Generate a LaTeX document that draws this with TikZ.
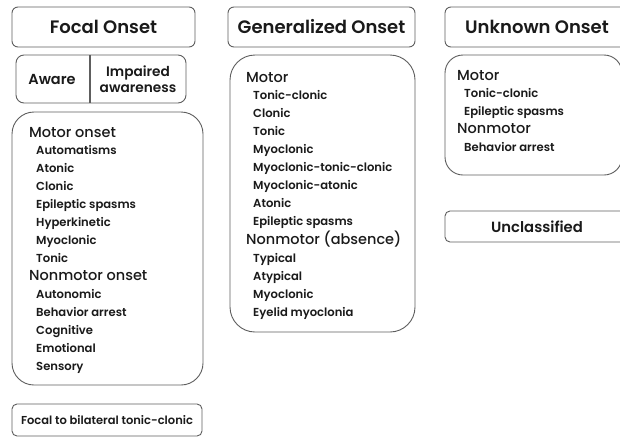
\documentclass[tikz,border=0pt]{standalone}
\usepackage{fontspec}
\setmainfont{Poppins}
\newfontfamily\pmed{Poppins Medium}
\newfontfamily\psemi{Poppins SemiBold}
\definecolor{linegray}{HTML}{5E5E5E}
\definecolor{txt}{HTML}{1A1A1A}
\begin{document}
\begin{tikzpicture}[x=1pt,y=-1pt,
  box/.style={draw=linegray, line width=0.9pt, inner sep=0},
  hdrtext/.style={inner sep=0, text=txt, font=\psemi\fontsize{18}{21}\selectfont},
  midtext/.style={inner sep=0, text=txt, font=\psemi\fontsize{14.5}{16}\selectfont, align=center},
  subhead/.style={anchor=base west, inner sep=0, text=txt, font=\pmed\fontsize{14.5}{17}\selectfont},
  item/.style={anchor=base west, inner sep=0, text=txt, font=\psemi\fontsize{11.6}{13}\selectfont},
  smallbox/.style={inner sep=0, text=txt, font=\psemi\fontsize{11.5}{13}\selectfont},
]
\useasboundingbox[fill=white] (0,0) rectangle (620,437);
% header boxes
\node[box, rounded corners=6pt, minimum width=183pt, minimum height=40pt] (focalbox) at (103.5,27) {};
\node[hdrtext] (focalt) at (focalbox.center) {Focal Onset};
\node[box, rounded corners=6pt, minimum width=187pt, minimum height=40pt] (genbox) at (321.5,27) {};
\node[hdrtext] (gent) at (genbox.center) {Generalized Onset};
\node[box, rounded corners=6pt, minimum width=184pt, minimum height=40pt] (unkbox) at (537,27) {};
\node[hdrtext] (unkt) at (unkbox.center) {Unknown Onset};
% aware box
\node[box, rounded corners=8pt, minimum width=170pt, minimum height=48pt] (awbox) at (101,79) {};
\coordinate (divtop) at (90,55);
\coordinate (divbot) at (90,103);
\draw[linegray, line width=1.4pt] (divtop) -- (divbot);
\node[midtext] (aware) at (52,79) {Aware};
\node[midtext, font=\psemi\fontsize{13.7}{16.5}\selectfont] (impaired) at (138,79) {Impaired\\awareness};
% focal list box
\node[box, rounded corners=22pt, minimum width=191pt, minimum height=273pt] (focallist) at (107.5,248.5) {};
\node[subhead] (fmotor) at (29,137) {Motor onset};
\foreach \t [count=\i from 0] in {Automatisms,Atonic,Clonic,Epileptic spasms,Hyperkinetic,Myoclonic,Tonic}
  \node[item] (fm\i) at (36,154+18*\i) {\t};
\node[subhead] (fnon) at (29,280) {Nonmotor onset};
\foreach \t [count=\i from 0] in {Autonomic,Behavior arrest,Cognitive,Emotional,Sensory}
  \node[item] (fn\i) at (36,298+18*\i) {\t};
% bilateral
\node[box, rounded corners=5pt, minimum width=190pt, minimum height=32pt] (bilbox) at (107,420) {};
\node[smallbox] (bilt) at (bilbox.center) {Focal to bilateral tonic-clonic};
% generalized list
\node[box, rounded corners=25pt, minimum width=185pt, minimum height=277pt] (genlist) at (322.5,193.5) {};
\node[subhead] (gmotor) at (246,82) {Motor};
\foreach \t [count=\i from 0] in {Tonic-clonic,Clonic,Tonic,Myoclonic,Myoclonic-tonic-clonic,Myoclonic-atonic,Atonic,Epileptic spasms}
  \node[item] (gm\i) at (253,99+18*\i) {\t};
\node[subhead] (gnon) at (246,244) {Nonmotor (absence)};
\foreach \t [count=\i from 0] in {Typical,Atypical,Myoclonic,Eyelid myoclonia}
  \node[item] (gn\i) at (253,262+18*\i) {\t};
% unknown list
\node[box, rounded corners=18pt, minimum width=177pt, minimum height=120pt] (unklist) at (533.5,115) {};
\node[subhead] (umotor) at (457,80) {Motor};
\node[item] (um0) at (464,97) {Tonic-clonic};
\node[item] (um1) at (464,115) {Epileptic spasms};
\node[subhead] (unon) at (457,133) {Nonmotor};
\node[item] (un0) at (464,151) {Behavior arrest};
% unclassified
\node[box, rounded corners=5pt, minimum width=184pt, minimum height=31pt] (unclbox) at (537,226.5) {};
\node[midtext, font=\psemi\fontsize{14.8}{16}\selectfont] (unclt) at (unclbox.center) {Unclassified};
\end{tikzpicture}
\end{document}
